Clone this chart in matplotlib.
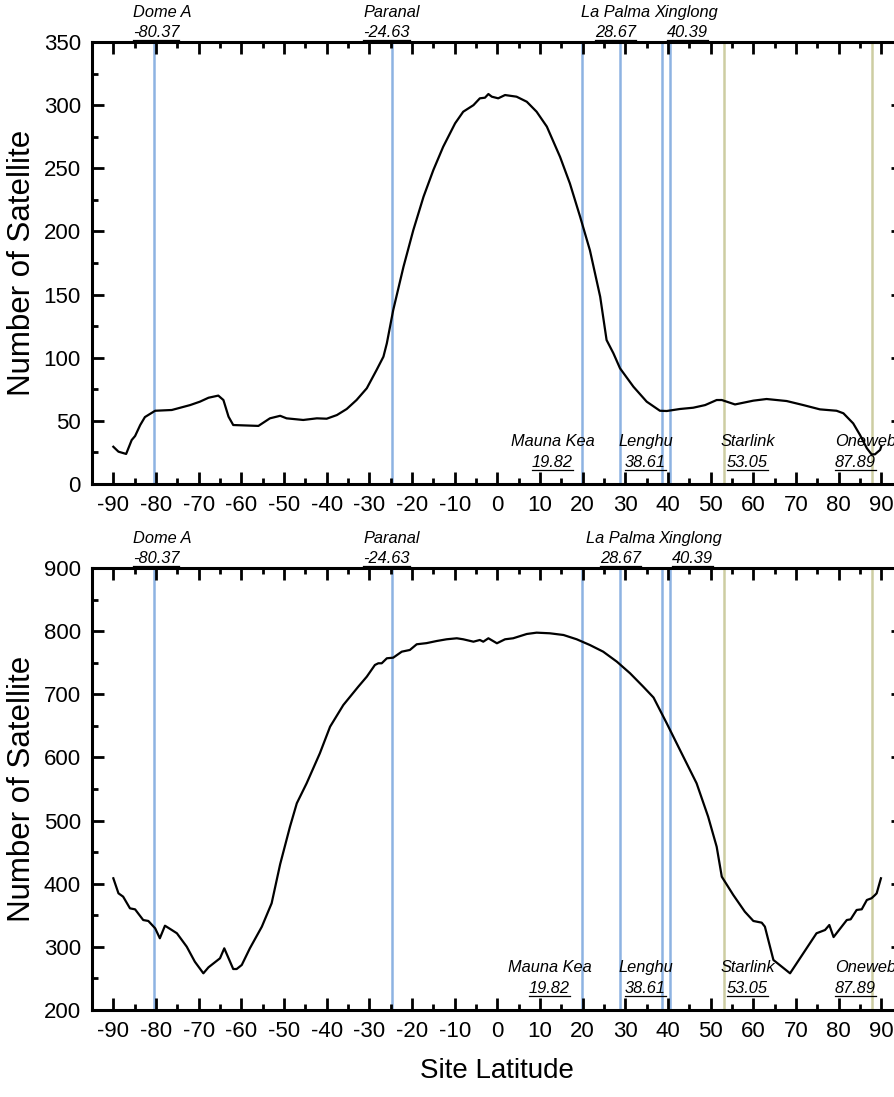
import matplotlib
matplotlib.use("Agg")
import matplotlib.pyplot as plt
from matplotlib.lines import Line2D
from matplotlib.ticker import MultipleLocator
import matplotlib.transforms as mtransforms

plt.rcParams['font.family'] = ['Liberation Sans', 'DejaVu Sans']
plt.rcParams['axes.unicode_minus'] = False

# ---------------- data ----------------
lat_top = [-90, -88.8, -87, -85.7, -84.9, -83.7, -82.6, -80.2, -76.3, -72, -69.7, -67.7, -65.4,
           -64.2, -63, -61.9, -56, -53.3, -50.9, -49.4, -45.5, -42.3, -40, -37.6, -35.3, -33,
           -30.6, -28.3, -26.7, -25.9, -24.4, -22, -19.7, -17.3, -15, -12.7, -9.9, -8, -5.6,
           -4.1, -2.9, -2.1, -1.3, 0.2, 1.8, 4.5, 6.9, 9.2, 11.6, 14.7, 17, 19.4, 21.7, 24.1,
           25.6, 27.2, 28.75, 31.9, 35, 38.1, 39.7, 42.8, 45.9, 48.7, 51.4, 52.6, 55.7, 60,
           63.1, 67.8, 71.7, 75.6, 79.5, 81.1, 83.4, 85, 86.6, 87.7, 88.5, 89.7, 90]
count_top = [29.5, 25.6, 23.8, 34.8, 38, 46.7, 53, 58, 58.6, 62.5, 65.2, 68.3, 70,
             66.5, 53.3, 46.7, 46, 52, 54, 52, 50.7, 52, 51.7, 54.6, 59.4, 66.5,
             75.8, 90.3, 100.8, 111.4, 137.8, 172, 201, 227.5, 248.6, 267, 285.6, 294.8, 300,
             305.4, 305.9, 308.8, 306.7, 305.4, 308, 306.7, 302.7, 294.8, 283, 259, 238, 211.6, 185, 148.3,
             114, 103.5, 91.6, 77, 65.2, 58, 57.8, 59.4, 60.4, 62.5, 66.5, 66.5, 63, 66,
             67.3, 65.7, 62.5, 59.1, 58, 56, 48, 38.8, 28.3, 23.5, 23.5, 27, 30]

lat_bot = [-90, -88.8, -87.7, -86.1, -84.9, -83, -81.8, -80.2, -79.1, -77.9, -76.3, -75.1,
           -72.8, -70.9, -68.9, -67.7, -65, -64, -61.9, -61.1, -59.9, -58, -55.2, -52.9, -50.9,
           -48.6, -47, -44.7, -41.6, -39.2, -36.1, -32.6, -30.6, -28.7, -27.9, -27.1, -25.9,
           -24.4, -22.4, -20.5, -18.9, -16.6, -14.2, -11.9, -9.5, -8, -5.6, -4.1, -3.3, -2.1,
           -0.1, 1.8, 3.7, 6.9, 9.2, 12.3, 15.5, 18.6, 21.7, 24.8, 28, 31.1, 34.2, 36.6, 39.7,
           42.8, 46.7, 49.4, 51.4, 52.6, 55.3, 58, 60, 61.96, 62.7, 64.7, 68.6, 71.7, 74.8,
           76.8, 77.8, 78.8, 81.9, 82.8, 84.2, 85.4, 86.6, 87.7, 88.5, 88.9, 89.9]
count_bot = [408.6, 384.8, 379.5, 361, 359.4, 342.5, 341, 329.4, 313.6, 333.5, 326.7, 321.5,
             300.3, 276.5, 258.1, 267.6, 281.9, 297.7, 264.9, 264.9, 271.3, 297.7, 331.9, 369, 431,
             490.3, 527.4, 559, 606.5, 648.7, 683, 712, 727.9, 746.4, 749.1, 749.1, 757,
             758, 767.5, 770.2, 779.2, 781, 784.4, 787.1, 788.7, 787.1, 783.3, 786, 783.3, 788.7,
             780.8, 787.1, 788.7, 795.5, 797.6, 796.6, 793.9, 787.1, 778, 767.5, 751.7, 733.3, 712, 694.9, 654,
             611.8, 559, 506.2, 458.6, 411.1, 382.1, 355.7, 341, 338.3, 332, 279.2, 258.1, 289.8, 321.5,
             326.7, 334.6, 315.5, 342.5, 343.6, 358.4, 359.5, 374.2, 377, 382, 384.8, 408.6]

site_names = ['Dome A', 'Paranal', 'Mauna Kea', 'La Palma', 'Lenghu', 'Xinglong']
site_lats = [-80.37, -24.63, 19.82, 28.67, 38.61, 40.39]
const_names = ['Starlink', 'Oneweb']
const_lats = [53.05, 87.89]

xticks = list(range(-90, 91, 10))
yticks_top = list(range(0, 351, 50))
yticks_bot = list(range(200, 901, 100))

# ---------------- styling / layout ----------------
BLUE = '#8DB3E2'
TAN = '#CDCDA2'
W, H = 894, 1097
fig = plt.figure(figsize=(W / 100, H / 100), dpi=100)
left = 92 / W
width = 810.7 / W
ax1 = fig.add_axes([left, 1 - 484 / H, width, 442 / H])
ax2 = fig.add_axes([left, 1 - 1010 / H, width, 442 / H])

# label placement: (dx_name, dx_num, where, halign)
label_layout = {
    'Dome A': (1.8, 0.4, 'top', 'center'),
    'Paranal': (-0.2, -1.4, 'top', 'center'),
    'La Palma': (-0.9, -0.9, 'top', 'center'),
    'Xinglong': (3.8, 4.2, 'top', 'center'),
    'Mauna Kea': (-6.8, -6.9, 'bottom', 'center'),
    'Lenghu': (-3.9, -3.9, 'bottom', 'center'),
    'Starlink': (5.7, 5.55, 'bottom', 'center'),
    'Oneweb': (-8.8, -8.8, 'bottom', 'left'),
}
bottom_shift = {'La Palma': 1.1, 'Xinglong': 1.1, 'Mauna Kea': -0.7}

num_texts = []
for ax, xs, ys, ylim, yt, yminor in [(ax1, lat_top, count_top, (0, 350), yticks_top, 25),
                                     (ax2, lat_bot, count_bot, (200, 900), yticks_bot, 50)]:
    for lat in site_lats:
        ax.axvline(lat, color=BLUE, lw=1.8, zorder=1)
    for lat in const_lats:
        ax.axvline(lat, color=TAN, lw=1.8, zorder=1)
    ax.plot(xs, ys, color='black', lw=1.6, zorder=3)
    ax.set_xlim(-95, 95)
    ax.set_ylim(*ylim)
    ax.set_xticks(xticks)
    ax.set_yticks(yt)
    ax.xaxis.set_minor_locator(MultipleLocator(5))
    ax.yaxis.set_minor_locator(MultipleLocator(yminor))
    ax.tick_params(which='both', direction='in', top=True, right=True, width=2.0, labelsize=16)
    ax.tick_params(which='major', length=8.5)
    ax.tick_params(which='minor', length=4)
    ax.tick_params(axis='x', which='major', pad=8)
    ax.tick_params(axis='y', which='major', pad=8)
    for s in ax.spines.values():
        s.set_linewidth(2.2)
    ax.set_ylabel('Number of Satellite', fontsize=22.5)
    ax.yaxis.set_label_coords(-0.068, 0.5)

    trans = mtransforms.blended_transform_factory(ax.transData, ax.transAxes)
    names = site_names + const_names
    lats = site_lats + const_lats
    for name, lat in zip(names, lats):
        dxn, dxv, where, ha = label_layout[name]
        shift = bottom_shift.get(name, 0) if ax is ax2 else 0
        if where == 'top':
            yn, yv = 1.0566, 1.0113
        else:
            yn, yv = 0.085, 0.038
        ax.text(lat + dxn + shift, yn, name, transform=trans, ha=ha, va='baseline',
                fontsize=11.8, style='italic', clip_on=False)
        t = ax.text(lat + dxv + shift, yv, f'{lat:.2f}', transform=trans, ha=ha, va='baseline',
                    fontsize=11.8, style='italic', clip_on=False)
        num_texts.append((t, trans, lat + dxv + shift, yv))

ax2.set_xlabel('Site Latitude', fontsize=20)
ax2.xaxis.set_label_coords(0.5, -0.108)

# underline the latitude values
fig.canvas.draw()
renderer = fig.canvas.get_renderer()
inv = fig.transFigure.inverted()
for t, trans, x, y in num_texts:
    bb = t.get_window_extent(renderer)
    _, ybase = trans.transform((x, y))
    p0 = inv.transform((bb.x0, ybase - 2.5))
    p1 = inv.transform((bb.x1, ybase - 2.5))
    fig.add_artist(Line2D([p0[0], p1[0]], [p0[1], p1[1]], transform=fig.transFigure,
                          color='black', lw=0.9))

fig.savefig('out.png', dpi=100)
